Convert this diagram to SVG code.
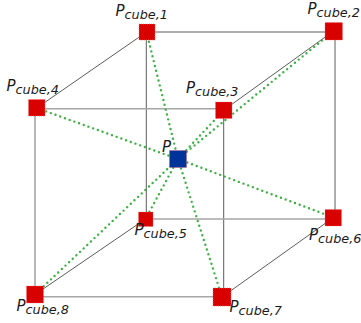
<svg xmlns="http://www.w3.org/2000/svg" width="361" height="323" viewBox="0 0 361 323">
<style>
.l{fill:none;stroke:#5c5c5c;stroke-width:1}
.h{fill:none;stroke:#a6a6a6;stroke-width:1.6}
.d{fill:none;stroke:#3cb043;stroke-width:2.4;stroke-linecap:round;stroke-dasharray:0 5}
.n{fill:#d90000;stroke:#ff6a6a;stroke-width:.6;stroke-dasharray:1 1}
.c{fill:#003399;stroke:#e0405a;stroke-width:.6;stroke-dasharray:1 1}
text{font-family:"DejaVu Sans",sans-serif;font-style:italic;font-size:15px;fill:#1a1a1a}
.s{font-size:12.8px}
</style>
<g id="connectors">
<path class="l" d="M146.500 32H333.500M146.300 32V219M335 31V217M223.700 110V297M146.500 32L36.700 108M333.500 31L224 110M145.500 219L35 294.500M333.500 217.500L222 297"/>
<path class="h" d="M36.700 108.700H224M35 108V294.500M145.500 219H333.500M35 296.700H222"/>
<path class="d" d="M146.500 32L178 159M333.500 31L178 159M224 110L178 159M36.700 108L178 159M178 159L145.500 219M178 159L333.500 217.500M178 159L222 297M178 159L35 294.500"/>
</g>
<g id="p-cube-1"><rect class="n" x="139" y="24" width="16" height="16"/><text x="115.500" y="15.500">P<tspan class="s" dy="3">cube,1</tspan></text></g>
<g id="p-cube-2"><rect class="n" x="325" y="22.500" width="17.500" height="17.500"/><text x="307.500" y="14">P<tspan class="s" dy="3">cube,2</tspan></text></g>
<g id="p-cube-3"><rect class="n" x="215.500" y="102" width="16.500" height="16.500"/><text x="186" y="93">P<tspan class="s" dy="3">cube,3</tspan></text></g>
<g id="p-cube-4"><rect class="n" x="28.500" y="99.500" width="16.500" height="16.500"/><text x="6.500" y="91">P<tspan class="s" dy="3">cube,4</tspan></text></g>
<g id="p-cube-5"><rect class="n" x="138.500" y="212" width="14.500" height="14.500"/><text x="134.500" y="235">P<tspan class="s" dy="3">cube,5</tspan></text></g>
<g id="p-cube-6"><rect class="n" x="325" y="209.500" width="16.500" height="16.500"/><text x="309" y="240">P<tspan class="s" dy="3">cube,6</tspan></text></g>
<g id="p-cube-7"><rect class="n" x="213" y="288" width="18" height="18"/><text x="229.500" y="312">P<tspan class="s" dy="3">cube,7</tspan></text></g>
<g id="p-cube-8"><rect class="n" x="26.500" y="286" width="17" height="17"/><text x="16.500" y="311">P<tspan class="s" dy="3">cube,8</tspan></text></g>
<g id="p"><rect class="c" x="169.500" y="150.500" width="17" height="17"/><text x="162" y="152">P</text></g>
</svg>
